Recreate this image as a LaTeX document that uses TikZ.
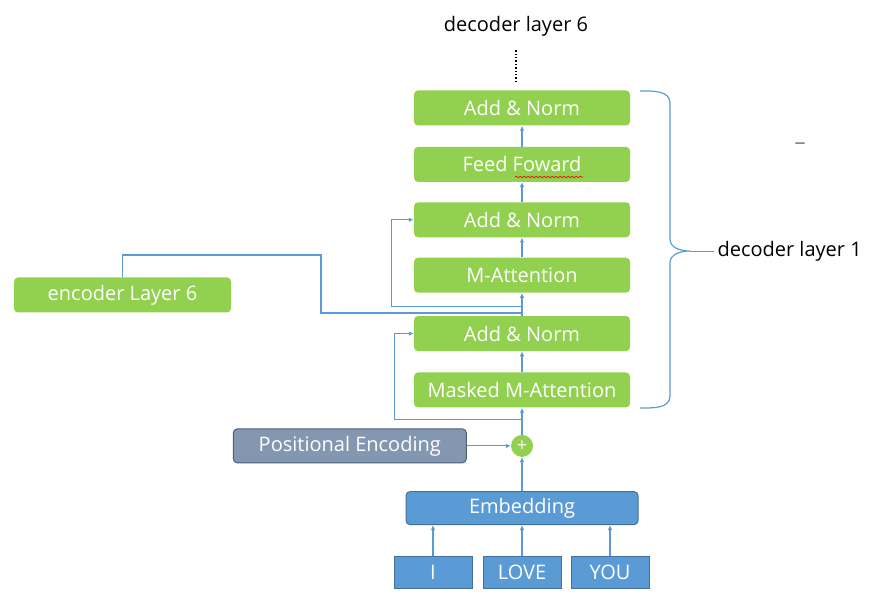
\documentclass[tikz,border=0pt]{standalone}
\usepackage{fontspec}
\setmainfont{Open Sans}
\usetikzlibrary{positioning,arrows.meta,decorations.pathmorphing}
\definecolor{lgreen}{HTML}{92D050}
\definecolor{lblue}{HTML}{5B9BD5}
\definecolor{dblue}{HTML}{41719C}
\definecolor{pgray}{HTML}{8497B0}
\definecolor{dgray}{HTML}{4E5F78}

\begin{document}
\begin{tikzpicture}[x=1pt,y=1pt,node distance=21pt,
  layer/.style={fill=lgreen, text=white, rounded corners=4pt, minimum height=35pt, minimum width=216pt, inner sep=0pt, font=\fontsize{20}{24}\selectfont},
  blk/.style={fill=lblue, draw=dblue, line width=1pt, text=white, inner sep=0pt, font=\fontsize{20}{24}\selectfont},
  link/.style={draw=lblue, line width=1.2pt, -{Latex[length=5pt,width=4.5pt]}},
  wire/.style={draw=lblue, line width=1.2pt}]
  \useasboundingbox (0,0) rectangle (888,597);
  \node[layer] (masked) at (522,207) {Masked M-Attention};
  \node[layer] (add3) [above=of masked] {Add \& Norm};
  \node[layer] (matt) [above=23pt of add3] {M-Attention};
  \node[layer] (add2) [above=20pt of matt] {Add \& Norm};
  \node[layer] (ff) [above=20pt of add2] {Feed Foward};
  \node[layer] (add1) [above=of ff] {Add \& Norm};
  \node[font=\fontsize{20}{24}\selectfont] (dec6) at (516,571) {decoder layer 6};
  \node[layer, minimum width=217pt] (enc) at (122.5,302) {encoder Layer 6};

  \node[circle, fill=lgreen, text=white, inner sep=0pt, minimum size=22pt, font=\fontsize{18}{18}\selectfont] (plus) [below=27pt of masked] {+};
  \node[blk, fill=pgray, draw=dgray, rounded corners=4pt, minimum width=233pt, minimum height=34pt] (pos) [left=44pt of plus] {Positional Encoding};
  \node[blk, rounded corners=4pt, minimum width=232pt, minimum height=33pt] (emb) [below=34pt of plus] {Embedding};
  \node[blk, minimum width=78pt, minimum height=32pt] (love) [below=31pt of emb] {LOVE};
  \node[blk, minimum width=78pt, minimum height=32pt] (i) [left=10pt of love] {I};
  \node[blk, minimum width=78pt, minimum height=32pt] (you) [right=9pt of love] {YOU};

  \node[font=\fontsize{20}{24}\selectfont, anchor=west] (dec1) at (714,346) {decoder layer 1};
  \node[text=gray, font=\fontsize{22}{24}\selectfont] (dash) at (800,451) {--};

  % inputs
  \path[link] (i.north) edge (i.north |- emb.south);
  \path[link] (love.north) edge (love.north |- emb.south);
  \path[link] (you.north) edge (you.north |- emb.south);
  \path[link] (emb) edge (plus);
  \path[link] (pos) edge (plus);
  \path[link] (plus) edge (masked);

  % decoder stack
  \path[link] (masked) edge (add3);
  \path[link] (add3) edge (matt);
  \path[link] (matt) edge (add2);
  \path[link] (add2) edge (ff);
  \path[link] (ff) edge (add1);
  \draw[dotted, line width=1.4pt] ([yshift=8pt]add1.north -| dec6.south) -- ([yshift=-9pt]dec6.south);

  % residuals
  \coordinate[below=12pt of masked] (r1);
  \draw[link] (r1) -| ([xshift=-19pt]add3.west) -- (add3.west);
  \coordinate[below=14pt of matt] (r2);
  \draw[link] (r2) -| ([xshift=-22pt]add2.west) -- (add2.west);

  % encoder output
  \coordinate (e1) at (321,342);
  \coordinate (e2) at (522,284);
  \draw[wire] (enc.north) |- (e1) |- (e2);

  % brace
  \draw[wire] (640,506) to[out=0,in=90] (670,494) -- (670,358)
    to[out=-90,in=180] (690,346) to[out=180,in=90] (670,334) -- (670,201)
    to[out=-90,in=0] (640,189);
  \draw[wire, line width=0.8pt] (690,346) -- (dec1.west);

  % spell check mark
  \draw[red, line width=0.6pt, decorate, decoration={snake, amplitude=0.8pt, segment length=4pt}] (515,420) -- (583,420);
\end{tikzpicture}
\end{document}
